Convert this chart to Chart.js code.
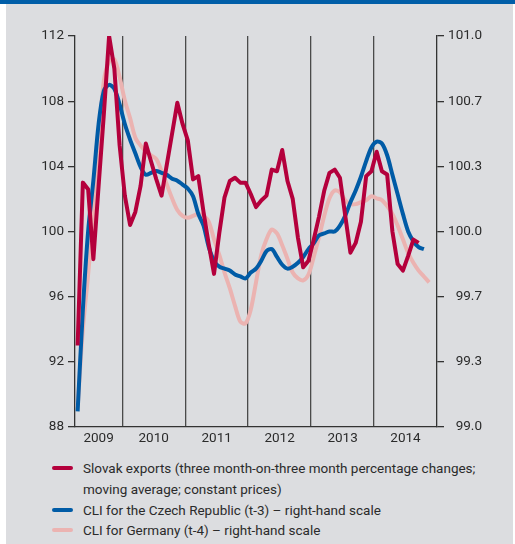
<!DOCTYPE html>
<html>
<head>
<meta charset="utf-8">
<script src="https://cdn.jsdelivr.net/npm/chart.js@4.4.1/dist/chart.umd.min.js"></script>
<style>
  html, body { margin: 0; padding: 0; background: #fff; }
  body { width: 515px; height: 544px; position: relative; overflow: hidden;
         font-family: Roboto, "Liberation Sans", sans-serif; color: #2b2b2b; }
  #band { position: absolute; left: 0; top: 0; width: 515px; height: 4px; background: #005ea8; }
  #panel { position: absolute; left: 6px; top: 4px; width: 507px; height: 540px; background: #dcdde0; }
  #wrap { position: absolute; left: 0; top: 0; width: 515px; height: 455px; }
  #legend { position: absolute; left: 52px; top: 458px; font-size: 13.5px; line-height: 20.8px; }
  .item { position: relative; padding-left: 31px; }
  .sw { position: absolute; left: 0; top: 8px; width: 21px; height: 4px; border-radius: 2px; }
</style>
</head>
<body>
<div id="band"></div>
<div id="panel"></div>
<div id="wrap"><canvas id="chart" width="515" height="455"></canvas></div>
<div id="legend"></div>
<script>
// monthly data, April 2009 - December 2014
const firstYear = 2009, firstMonth = 4;
const years = ["2009", "2010", "2011", "2012", "2013", "2014"];
const leftTicks = [88, 92, 96, 100, 104, 108, 112];
const rightTicks = ["99.0", "99.3", "99.7", "100.0", "100.3", "100.7", "101.0"];

// Slovak exports (left-hand scale)
const exportsSk = [
  93.0, 103.0, 102.6, 98.3, 102.8, 107.2, 112.0, 110.0, 105.3, 102.2, 100.4, 101.2,
  102.8, 105.4, 104.3, 103.2, 102.2, 104.1, 106.0, 107.9, 106.6, 105.6, 103.2, 103.4,
  101.2, 99.2, 97.4, 99.9, 102.1, 103.1, 103.3, 103.0, 103.0, 102.3, 101.5, 101.9,
  102.2, 103.8, 103.7, 105.0, 103.1, 102.0, 99.6, 97.8, 98.2, 99.5, 100.9, 102.5,
  103.6, 103.8, 103.3, 101.0, 98.7, 99.3, 100.6, 103.4, 103.7, 104.9, 103.7, 103.5,
  100.0, 98.0, 97.6, 98.5, 99.5, 99.3
];
// CLI for the Czech Republic, t-3 (right-hand scale)
const cliCz = [
  99.08, 99.60, 100.00, 100.26, 100.55, 100.72, 100.75, 100.73, 100.65, 100.55, 100.47, 100.40,
  100.33, 100.29, 100.30, 100.31, 100.30, 100.29, 100.27, 100.26, 100.24, 100.22, 100.18, 100.09,
  100.03, 99.92, 99.85, 99.82, 99.81, 99.80, 99.78, 99.77, 99.76, 99.79, 99.81, 99.85,
  99.90, 99.91, 99.87, 99.83, 99.81, 99.82, 99.84, 99.87, 99.91, 99.94, 99.98, 99.99,
  100.00, 100.00, 100.03, 100.08, 100.15, 100.21, 100.28, 100.36, 100.43, 100.46, 100.45, 100.39,
  100.29, 100.19, 100.09, 100.00, 99.95, 99.92, 99.91
];
// CLI for Germany, t-4 (right-hand scale)
const cliDe = [
  99.10, 99.50, 99.78, 100.09, 100.47, 100.77, 100.87, 100.88, 100.79, 100.67, 100.58, 100.48,
  100.44, 100.41, 100.39, 100.37, 100.31, 100.24, 100.17, 100.11, 100.08, 100.07, 100.08, 100.09,
  100.08, 100.05, 99.96, 99.88, 99.79, 99.71, 99.62, 99.54, 99.53, 99.60, 99.74, 99.88,
  99.96, 100.01, 99.99, 99.93, 99.86, 99.79, 99.76, 99.75, 99.78, 99.87, 99.97, 100.08,
  100.17, 100.21, 100.20, 100.16, 100.14, 100.14, 100.15, 100.16, 100.18, 100.17, 100.16, 100.13,
  100.09, 100.03, 99.96, 99.89, 99.84, 99.80, 99.77, 99.74
];

const labels = [
  "Slovak exports (three month-on-three month percentage changes; moving average; constant prices)",
  "CLI for the Czech Republic (t-3) \u2013 right-hand scale",
  "CLI for Germany (t-4) \u2013 right-hand scale"
];
const colors = ["#b4003c", "#005ba6", "#ebb3b1"];

// month axis: 0 = start of first month, one unit per month
const totalMonths = (years.length - 1) * 12 + (13 - firstMonth);
const yearStarts = [];
const yearMids = [];
let start = 0;
years.forEach((y, i) => {
  const len = i === 0 ? 13 - firstMonth : 12;
  if (i > 0) yearStarts.push(start);
  yearMids.push(start + len / 2);
  start += len;
});

const toPoints = arr => arr.map((v, i) => ({ x: i + 0.5, y: v }));
const tickFont = { family: "Roboto, 'Liberation Sans', sans-serif", size: 13.5 };
const ink = "#2b2b2b";

new Chart(document.getElementById("chart"), {
  type: "line",
  data: {
    datasets: [
      { label: labels[0], data: toPoints(exportsSk), yAxisID: "y", borderColor: colors[0],
        borderWidth: 4, tension: 0, pointRadius: 0, borderJoinStyle: "round" },
      { label: labels[1], data: toPoints(cliCz), yAxisID: "y1", borderColor: colors[1],
        borderWidth: 4, tension: 0.3, pointRadius: 0 },
      { label: labels[2], data: toPoints(cliDe), yAxisID: "y1", borderColor: colors[2],
        borderWidth: 4, tension: 0.3, pointRadius: 0 }
    ]
  },
  options: {
    responsive: false,
    animation: false,
    layout: { padding: { top: 36, left: 0, right: 33, bottom: 0 } },
    plugins: { legend: { display: false }, tooltip: { enabled: false } },
    scales: {
      x: {
        type: "linear",
        min: 0,
        max: totalMonths,
        afterBuildTicks: s => {
          s.ticks = [...yearMids, ...yearStarts].sort((a, b) => a - b).map(v => ({ value: v }));
        },
        afterFit: s => { s.height = 28; },
        grid: {
          drawTicks: false,
          lineWidth: 1.3,
          color: c => (c.tick && yearStarts.includes(c.tick.value) ? "#4a4a4a" : "rgba(0,0,0,0)")
        },
        border: { color: "#333", width: 1.3 },
        ticks: {
          autoSkip: false, maxRotation: 0, padding: 4, color: ink, font: tickFont,
          callback: v => {
            const k = yearMids.indexOf(v);
            return k >= 0 ? years[k] : "";
          }
        }
      },
      y: {
        position: "left",
        min: 88,
        max: 112,
        afterBuildTicks: s => { s.ticks = leftTicks.map(v => ({ value: v })); },
        afterFit: s => { s.width = 75; },
        grid: { drawOnChartArea: false, tickLength: 7, color: "#333", lineWidth: 1.3 },
        border: { color: "#333", width: 1.3 },
        ticks: { padding: 4, color: ink, font: tickFont }
      },
      y1: {
        position: "right",
        min: 99,
        max: 101,
        afterBuildTicks: s => {
          s.ticks = rightTicks.map((t, i) => ({ value: 99 + (2 * i) / (rightTicks.length - 1) }));
        },
        afterFit: s => { s.width = 45; },
        grid: { drawOnChartArea: false, tickLength: 7, color: "#333", lineWidth: 1.3 },
        border: { color: "#333", width: 1.3 },
        ticks: {
          padding: 4, crossAlign: "far", color: ink, font: tickFont,
          callback: (v, i) => rightTicks[i]
        }
      }
    }
  }
});

// legend below the chart
const legend = document.getElementById("legend");
const legendText = [
  "Slovak exports (three month-on-three month percentage changes;<br>moving average; constant prices)",
  labels[1],
  labels[2]
];
legendText.forEach((t, i) => {
  const row = document.createElement("div");
  row.className = "item";
  row.innerHTML = '<span class="sw" style="background:' + colors[i] + '"></span>' + t;
  legend.appendChild(row);
});
</script>
</body>
</html>
